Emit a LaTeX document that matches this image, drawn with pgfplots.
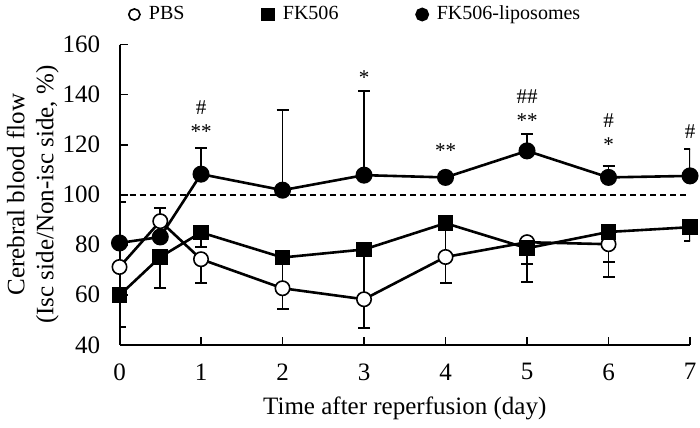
\documentclass[border=0pt]{standalone}
\usepackage{fontspec}
\setmainfont{Liberation Serif}
\usepackage{pgfplots}
\pgfplotsset{compat=1.18}
\begin{document}
\fontsize{12.5}{14.5}\selectfont
\begin{tikzpicture}
\begin{axis}[
    scale only axis,
    width=285pt, height=150pt,
    xmin=0, xmax=7, ymin=40, ymax=160,
    axis lines=left,
    axis line style={-, line width=1pt},
    tick align=inside,
    major tick length=4pt,
    tick style={line width=0.9pt, black},
    xtick={0,1,...,7},
    ytick={40,60,...,160},
    /pgf/number format/assume math mode=true,
    xticklabel style={yshift=-5pt},
    yticklabel style={xshift=-5.3pt},
    xlabel={Time after reperfusion (day)},
    ylabel={Cerebral blood flow\\(Isc side/Non-isc side, \%)},
    xlabel style={at={(axis description cs:0.5,-0.213)}, anchor=center},
    ylabel style={align=center, at={(axis description cs:-0.152,0.5)}, anchor=center},
    legend columns=3,
    legend style={draw=none, fill=none, at={(0.005,1.1)}, anchor=west,
        font=\fontsize{10}{12}\selectfont,
        /tikz/every odd column/.append style={column sep=2.5pt},
        /tikz/every even column/.append style={column sep=37pt}},
    legend image code/.code={\draw[#1, mark size=2.8pt] plot[only marks] coordinates {(0.12cm,0cm)};},
    error bars/error bar style={line width=0.8pt, black},
    error bars/error mark options={rotate=90, mark size=3pt, line width=0.8pt, black},
]
\addplot[black, dashed, dash pattern=on 3pt off 2pt, line width=0.9pt, forget plot]
    coordinates {(0,100) (7,100)};

% PBS
\addplot[black, line width=1.3pt, mark=*, mark size=3.6pt,
    mark options={fill=white, line width=0.8pt},
    error bars/.cd, y dir=both, y explicit]
    coordinates {
    (0,71.1) += (0,26) -= (0,0)
    (0.5,89.4) += (0,5.2) -= (0,0)
    (1,74.2) += (0,0) -= (0,9.6)
    (2,62.6) += (0,0) -= (0,8.4)
    (3,58.2) += (0,0) -= (0,11.6)
    (4,75.1) += (0,0) -= (0,10.5)
    (5,81.0) += (0,0) -= (0,8.8)
    (6,80.2) += (0,0) -= (0,13.2)
    };
\addlegendentry{PBS}

% FK506
\addplot[black, line width=1.3pt, mark=square*, mark size=3.3pt,
    mark options={fill=black},
    error bars/.cd, y dir=both, y explicit]
    coordinates {
    (0,59.8) += (0,0) -= (0,12.7)
    (0.5,75.1) += (0,0) -= (0,12.5)
    (1,84.9) += (0,0) -= (0,5.8)
    (2,74.9) += (0,0) -= (0,12)
    (3,78.1) += (0,0) -= (0,20)
    (4,88.6) += (0,0) -= (0,14)
    (5,78.6) += (0,0) -= (0,13.6)
    (6,85.1) += (0,0) -= (0,12)
    (7,87.0) += (0,0) -= (0,5.5)
    };
\addlegendentry{FK506}

% FK506-liposomes
\addplot[black, line width=1.3pt, mark=*, mark size=3.6pt,
    mark options={fill=black},
    error bars/.cd, y dir=both, y explicit]
    coordinates {
    (0,80.7) += (0,0) -= (0,0)
    (0.5,83.1) += (0,0) -= (0,0)
    (1,108.2) += (0,10.5) -= (0,0)
    (2,101.8) += (0,32) -= (0,0)
    (3,107.8) += (0,33.6) -= (0,0)
    (4,106.9) += (0,2) -= (0,0)
    (5,117.5) += (0,6.7) -= (0,0)
    (6,106.9) += (0,4.6) -= (0,0)
    (7,107.5) += (0,10.7) -= (0,0)
    };
\addlegendentry{FK506-liposomes}

% significance marks (drawn after the axis so they are not clipped)
\coordinate (s1a) at (axis cs:1,134.6);
\coordinate (s1b) at (axis cs:1,125.0);
\coordinate (s3a) at (axis cs:3,146.6);
\coordinate (s4a) at (axis cs:4,117.8);
\coordinate (s5a) at (axis cs:5,139.1);
\coordinate (s5b) at (axis cs:5,129.4);
\coordinate (s6a) at (axis cs:6,129.4);
\coordinate (s6b) at (axis cs:6,119.9);
\coordinate (s7a) at (axis cs:7,125.1);
\coordinate (bbl) at (rel axis cs:-0.2095,-0.275);
\coordinate (btr) at (rel axis cs:1.0175,1.1483);
\end{axis}
\begin{scope}[every node/.style={font=\fontsize{10.5}{12}\selectfont}]
\node at (s1a) {\#};
\node at (s1b) {**};
\node at (s3a) {*};
\node at (s4a) {**};
\node at (s5a) {\#\#};
\node at (s5b) {**};
\node at (s6a) {\#};
\node at (s6b) {*};
\node at (s7a) {\#};
\end{scope}
\pgfresetboundingbox
\path (bbl) rectangle (btr);
\end{tikzpicture}
\end{document}
